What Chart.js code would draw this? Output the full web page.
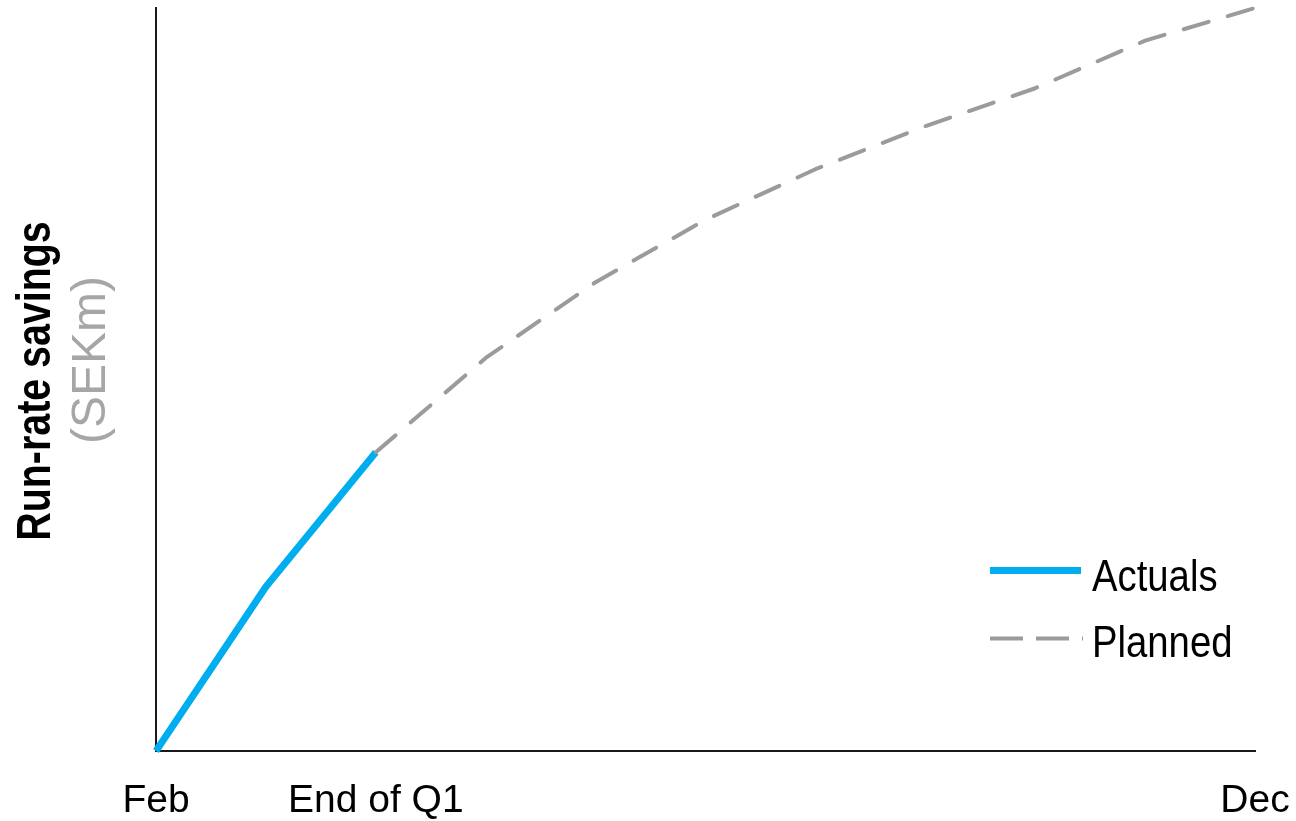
<!DOCTYPE html>
<html>
<head>
<meta charset="utf-8">
<script src="https://cdn.jsdelivr.net/npm/chart.js@4"></script>
<style>
  html, body { margin: 0; padding: 0; background: #ffffff; }
  #wrap { width: 1296px; height: 821px; position: relative; }
</style>
</head>
<body>
<div id="wrap"><canvas id="chart" width="1296" height="821"></canvas></div>
<script>
// Month categories along the x axis
const months = ['Feb', 'Mar', 'Apr', 'May', 'Jun', 'Jul', 'Aug', 'Sep', 'Oct', 'Nov', 'Dec'];
// Only three of the months carry a visible tick label
const tickLabels = ['Feb', '', 'End of Q1', '', '', '', '', '', '', '', 'Dec'];
// Run-rate savings, indexed to 100 at year end
const actuals = [0, 22.1, 40.2, null, null, null, null, null, null, null, null];
const planned = [null, null, 40.2, 52.9, 63.1, 71.5, 78.3, 84.1, 89.2, 95.6, 100];
const seriesNames = ['Actuals', 'Planned'];
const axisTitle = 'Run-rate savings';
const axisUnit = '(SEKm)';

const SANS = "'Liberation Sans', Arial, sans-serif";
const BLUE = '#00aeef';
const GREY = '#9b9b9b';

// Writes text squeezed horizontally around the current transform
function narrowText(ctx, text, x, y, factor) {
  ctx.save();
  ctx.translate(x, y);
  ctx.scale(factor, 1);
  ctx.fillText(text, 0, 0);
  ctx.restore();
}

// Draws the rotated two-line axis title and the in-plot legend
const decorations = {
  id: 'decorations',
  afterDraw(chart) {
    const ctx = chart.ctx;

    // Axis title: bold label and grey unit beneath it
    ctx.save();
    ctx.translate(50, 381);
    ctx.rotate(-Math.PI / 2);
    ctx.textAlign = 'center';
    ctx.textBaseline = 'alphabetic';
    ctx.fillStyle = '#000000';
    ctx.font = "bold 48px " + SANS;
    narrowText(ctx, axisTitle, 0, 0, 0.82);
    ctx.restore();

    ctx.save();
    ctx.translate(105, 360);
    ctx.rotate(-Math.PI / 2);
    ctx.textAlign = 'center';
    ctx.textBaseline = 'alphabetic';
    ctx.fillStyle = '#a6a6a6';
    ctx.font = "48px " + SANS;
    ctx.fillText(axisUnit, 0, 0);
    ctx.restore();

    // Legend in the lower right of the plot
    const sx = 990, ex = 1083, tx = 1092;
    ctx.save();
    ctx.lineCap = 'butt';
    ctx.strokeStyle = BLUE;
    ctx.lineWidth = 7;
    ctx.beginPath();
    ctx.moveTo(sx, 570.5);
    ctx.lineTo(ex - 2, 570.5);
    ctx.stroke();

    ctx.strokeStyle = GREY;
    ctx.lineWidth = 4;
    ctx.setLineDash([33, 13]);
    ctx.beginPath();
    ctx.moveTo(sx, 638.5);
    ctx.lineTo(ex, 638.5);
    ctx.stroke();
    ctx.setLineDash([]);

    ctx.fillStyle = '#000000';
    ctx.font = "44px " + SANS;
    ctx.textAlign = 'left';
    ctx.textBaseline = 'alphabetic';
    narrowText(ctx, seriesNames[0], tx, 591, 0.87);
    narrowText(ctx, seriesNames[1], tx, 657, 0.87);
    ctx.restore();
  }
};

new Chart(document.getElementById('chart'), {
  type: 'line',
  data: {
    labels: months,
    datasets: [
      {
        label: seriesNames[1],
        data: planned,
        borderColor: GREY,
        borderWidth: 4,
        borderDash: [26, 20],
        borderCapStyle: 'round',
        borderJoinStyle: 'round',
        pointRadius: 0,
        tension: 0,
        clip: false,
        spanGaps: false,
        order: 0
      },
      {
        label: seriesNames[0],
        data: actuals,
        borderColor: BLUE,
        borderWidth: 7,
        borderCapStyle: 'butt',
        borderJoinStyle: 'round',
        pointRadius: 0,
        tension: 0,
        clip: false,
        spanGaps: false,
        order: 1
      }
    ]
  },
  options: {
    responsive: false,
    animation: false,
    devicePixelRatio: 1,
    layout: { padding: { top: 8, right: 41, left: 0, bottom: 0 } },
    plugins: {
      legend: { display: false },
      tooltip: { enabled: false },
      title: { display: false }
    },
    scales: {
      x: {
        type: 'category',
        offset: false,
        grid: { display: false, drawTicks: false },
        border: { display: true, color: '#1a1a1a', width: 2 },
        ticks: {
          autoSkip: false,
          maxRotation: 0,
          minRotation: 0,
          padding: 27,
          color: '#000000',
          font: { family: SANS, size: 39 },
          callback: (value, index) => tickLabels[index]
        },
        afterFit(scale) {
          scale.height = 70;
          scale.paddingLeft = 0;
          scale.paddingRight = 0;
        }
      },
      y: {
        min: 0,
        max: 100,
        grid: { display: false, drawTicks: false },
        border: { display: true, color: '#1a1a1a', width: 2 },
        ticks: { display: false },
        afterFit(scale) { scale.width = 156; }
      }
    }
  },
  plugins: [decorations]
});
</script>
</body>
</html>
